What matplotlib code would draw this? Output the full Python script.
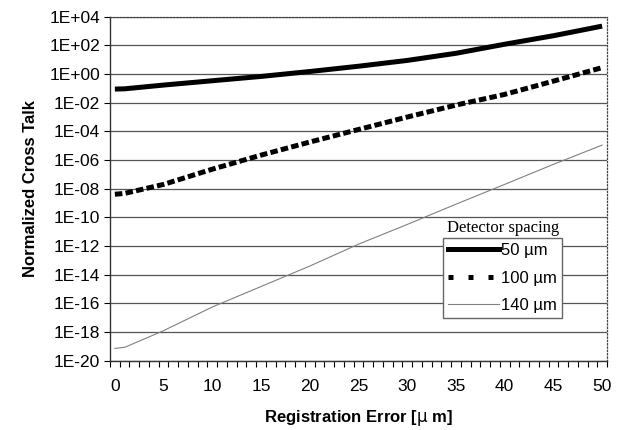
import matplotlib
matplotlib.use('Agg')
import matplotlib.pyplot as plt
import numpy as np
from matplotlib.lines import Line2D
from matplotlib.ticker import FixedLocator, FuncFormatter

plt.rcParams['font.family'] = ['Liberation Sans', 'DejaVu Sans']

reg_err = [0, 1, 5, 10, 15, 20, 25, 30, 35, 40, 45, 50]
xt_50 = [8.9e-2, 9.3e-2, 1.7e-1, 3.4e-1, 6.8e-1, 1.5e+0, 3.5e+0,
         8.9e+0, 2.8e+1, 1.2e+2, 4.7e+2, 2.2e+3]
xt_100 = [4.1e-9, 4.7e-9, 2.0e-8, 2.3e-7, 2.2e-6, 1.8e-5, 1.35e-4,
          1.0e-3, 6.8e-3, 3.8e-2, 3.2e-1, 2.8e+0]
xt_140 = [7.2e-20, 8.5e-20, 1.25e-18, 5.6e-17, 1.5e-15, 4.0e-14, 1.35e-12,
          3.2e-11, 8.3e-10, 2.0e-8, 5.0e-7, 1.1e-5]
series_labels = ['50 µm', '100 µm', '140 µm']

ytick_exp = list(range(-20, 5, 2))
xtick_vals = list(range(0, 51, 5))

fig = plt.figure(figsize=(6.23, 4.30), dpi=100)
ax = fig.add_axes([110/623, 1-360.7/430, 497/623, 344/430])

ax.plot(reg_err, xt_50, color='black', lw=3.6, solid_capstyle='butt')
ax.plot(reg_err, xt_100, color='black', lw=3.6, dashes=(1.5, 0.65))
ax.plot(reg_err, xt_140, color='#808080', lw=0.8)

ax.set_yscale('log')
ax.set_ylim(1e-20, 1e4)
ax.set_xlim(-0.5, 50.5)

ax.yaxis.set_major_locator(FixedLocator([10.0**e for e in ytick_exp]))
ax.yaxis.set_minor_locator(FixedLocator([]))
ax.yaxis.set_major_formatter(FuncFormatter(lambda v, p: '1E%+03d' % round(np.log10(v))))
ax.grid(axis='y', color='#555555', lw=0.9)
ax.set_axisbelow(True)

ax.set_xticks(xtick_vals)
ax.xaxis.set_minor_locator(FixedLocator(np.arange(-0.5, 51, 1)))
ax.tick_params(axis='x', which='major', length=0, pad=13, labelsize=12.5)
ax.tick_params(axis='x', which='minor', length=4, direction='out', width=0.8)
ax.tick_params(axis='y', which='major', length=4, direction='out', width=0.8,
               labelsize=12.5, pad=3)

for s in ['top', 'right']:
    ax.spines[s].set_linestyle(':')
    ax.spines[s].set_color('#444444')
    ax.spines[s].set_linewidth(0.9)
for s in ['left', 'bottom']:
    ax.spines[s].set_color('#333333')
    ax.spines[s].set_linewidth(1.0)

ax.set_xlabel('Registration Error [$\\mathrm{\\mu}$ m]', fontsize=12, fontweight='bold', labelpad=10)
ax.set_ylabel('Normalized Cross Talk', fontsize=12, fontweight='bold', labelpad=8)

handles = [Line2D([], [], color='black', lw=3.6),
           Line2D([], [], color='black', lw=3.6, dashes=(1.0, 3.0)),
           Line2D([], [], color='#808080', lw=0.8)]
leg = fig.legend(handles, series_labels, loc='upper left',
                 bbox_to_anchor=(442.7/623, 1-238.3/430), borderaxespad=0,
                 fontsize=12, handlelength=3.1, handletextpad=0.1,
                 labelspacing=0.75, borderpad=0.3, fancybox=False,
                 framealpha=1, edgecolor='#666666')
leg.get_frame().set_linewidth(1.0)
fig.text(503/623, 1-228/430, 'Detector spacing', family='Liberation Serif',
         fontsize=12, ha='center', va='center')

fig.savefig('out.png', dpi=100)
